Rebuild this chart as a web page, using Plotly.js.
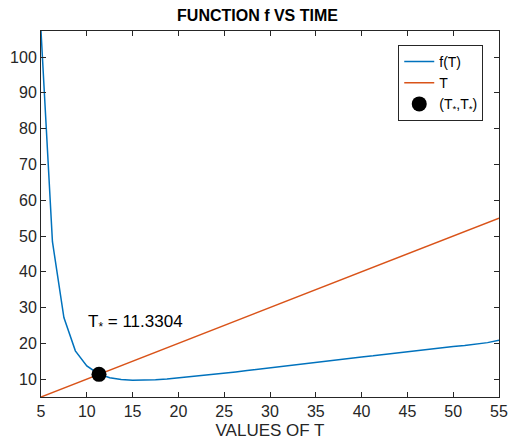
<!DOCTYPE html>
<html><head><meta charset="utf-8">
<script src="https://cdn.plot.ly/plotly-3.0.1.min.js"></script>
<style>html,body{margin:0;padding:0;background:#fff}#chart{width:515px;height:443px}</style>
</head><body><div id="chart"></div>
<script>
var tValues = [5,6.25,7.5,8.75,10,11.25,12.5,13.75,15,16.25,17.5,18.75,20,21.25,22.5,23.75,25,26.25,27.5,28.75,30,31.25,32.5,33.75,35,36.25,37.5,38.75,40,41.25,42.5,43.75,45,46.25,47.5,48.75,50,51.25,52.5,53.75,55];
var fValues = [107.3,48.4,27.2,17.9,13.7,11.5,10.4,9.9,9.7,9.7,9.8,10.0,10.3,10.6,10.9,11.3,11.6,12.0,12.4,12.8,13.2,13.5,13.9,14.3,14.7,15.0,15.4,15.8,16.2,16.5,16.9,17.3,17.6,18.0,18.4,18.7,19.1,19.4,19.8,20.2,20.9];
var lineT = [5,55];
var tStar = 11.3304;
var xTicks = [5,10,15,20,25,30,35,40,45,50,55];
var yTicks = [10,20,30,40,50,60,70,80,90,100];

var axColor = '#262626';
var fam = '"Liberation Sans", Arial, sans-serif';
var font = {family:fam, size:16, color:axColor};

var traces = [
  {x:tValues, y:fValues, mode:'lines', name:'f(T)', line:{color:'#0072BD', width:1.5}},
  {x:lineT, y:lineT, mode:'lines', name:'T', line:{color:'#D95319', width:1.5}},
  {x:[tStar], y:[tStar], mode:'markers', name:'(T<sub>*</sub>,T<sub>*</sub>)', marker:{color:'#000', size:15}}
];

var layout = {
  width:515, height:443,
  margin:{l:41, r:16, t:31, b:46},
  paper_bgcolor:'#fff', plot_bgcolor:'#fff',
  font:font,
  showlegend:true,
  title:{text:'<b>FUNCTION f VS TIME</b>', font:{family:fam, size:16, color:'#000'}, x:0.5, xanchor:'center', y:0.966, yanchor:'middle'},
  xaxis:{range:[5,55], tickvals:xTicks, ticks:'inside', ticklen:5, tickcolor:axColor, showline:true, linecolor:axColor, linewidth:1, mirror:'ticks', showgrid:false, zeroline:false,
         title:{text:'VALUES OF T', font:{family:fam, size:17, color:axColor}, standoff:4}, tickfont:{family:fam, size:16, color:axColor}},
  yaxis:{range:[5,107.3], tickvals:yTicks, ticks:'inside', ticklen:5, tickcolor:axColor, showline:true, linecolor:axColor, linewidth:1, mirror:'ticks', showgrid:false, zeroline:false,
         tickfont:{family:fam, size:16, color:axColor}},
  legend:{x:0.78, y:0.962, xanchor:'left', yanchor:'top', bgcolor:'#fff', bordercolor:axColor, borderwidth:1, font:{family:fam, size:14, color:'#000'}, tracegroupgap:0, itemwidth:30},
  annotations:[{x:9.9, y:25.6, xref:'x', yref:'y', text:'T<sub>*</sub> = 11.3304', showarrow:false, xanchor:'left', yanchor:'middle', font:{family:fam, size:17, color:'#000'}}]
};
Plotly.newPlot('chart', traces, layout, {staticPlot:true, displayModeBar:false});
</script></body></html>
